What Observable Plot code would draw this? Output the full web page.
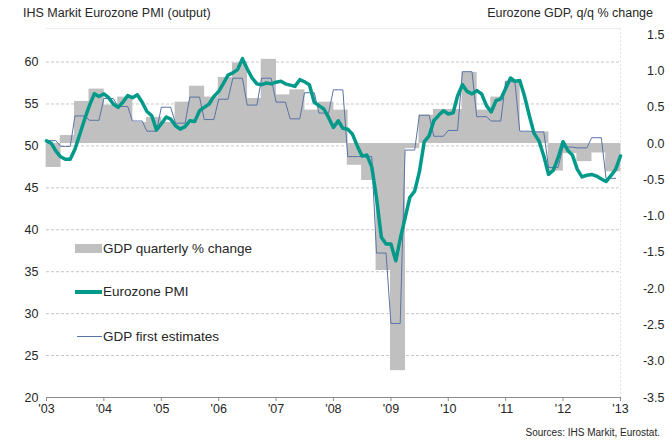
<!DOCTYPE html>
<html><head><meta charset="utf-8">
<script src="https://cdn.jsdelivr.net/npm/d3@7"></script>
<script src="https://cdn.jsdelivr.net/npm/@observablehq/plot@0.6"></script>
<style>
body{margin:0;background:#fff;}
#wrap{position:relative;width:670px;height:443px;font-family:"Liberation Sans",Arial,sans-serif;color:#262626;}
.t{position:absolute;white-space:nowrap;transform:translateY(-50%);line-height:1.2;}
.sw{position:absolute;}
</style></head><body><div id="wrap"></div>
<script>
const startYear = 2003;
const yearLabels = ["'03","'04","'05","'06","'07","'08","'09","'10","'11","'12","'13"];
const pmiTicks = [20,25,30,35,40,45,50,55,60];
const gdpTicks = [-3.5,-3.0,-2.5,-2.0,-1.5,-1.0,-0.5,0.0,0.5,1.0,1.5];
const seriesNames = ["GDP quarterly % change","Eurozone PMI","GDP first estimates"];
const titleLeft = "IHS Markit Eurozone PMI (output)";
const titleRight = "Eurozone GDP, q/q % change";
const sourceText = "Sources: IHS Markit, Eurostat.";

// Monthly Eurozone PMI, Jan 2003 .. Jan 2013
const pmiMonthly = [
 50.6,50.3,49.4,48.7,48.4,48.4,49.6,51.4,53.2,54.8,56.2,55.9,
 56.2,55.75,55.0,54.6,55.2,56.0,55.75,56.1,55.2,54.1,53.6,51.9,
 52.65,53.45,53.2,52.4,52.0,52.3,53.0,52.9,54.2,54.6,55.0,55.9,
 56.5,57.5,58.45,58.7,59.1,60.4,59.2,58.1,57.4,57.3,57.5,57.4,
 57.6,57.7,57.4,57.25,57.1,57.9,57.65,57.3,55.2,54.8,54.4,53.4,
 52.2,53.0,52.1,52.0,51.4,50.0,48.8,48.9,47.5,43.85,39.1,38.3,
 38.3,36.3,38.9,41.4,43.85,44.6,46.9,50.5,51.2,53.0,53.65,54.2,
 53.8,53.95,55.95,57.3,56.5,56.2,56.6,56.2,54.8,54.05,55.4,55.6,
 56.85,58.1,57.7,57.8,55.95,53.6,51.5,50.6,48.8,46.6,47.1,48.6,
 50.5,49.45,48.9,47.2,46.3,46.5,46.6,46.4,46.05,45.75,46.45,47.2,
 48.8
];
// Quarterly GDP % change, Q1 2003 .. Q4 2012
const gdpQuarterly = [
 -0.33,0.11,0.58,0.75, 0.53,0.64,0.29,0.36, 0.29,0.57,0.79,0.64,
 0.91,1.11,0.62,1.16, 0.67,0.74,0.46,0.57, 0.46,-0.30,-0.51,-1.75,
 -3.13,-0.07,0.39,0.47, 0.47,0.98,0.46,0.64, 0.86,0.16,0.16,-0.38,
 -0.14,-0.25,-0.13,-0.39
];
// GDP first estimates, Q1 2003 .. Q4 2012
const gdpFirstEstimate = [
 0.04,-0.04,0.38,0.32, 0.62,0.51,0.31,0.17, 0.50,0.28,0.64,0.33,
 0.61,0.90,0.53,0.90, 0.57,0.34,0.70,0.42, 0.74,-0.18,-0.18,-1.51,
 -2.48,-0.09,0.39,0.10, 0.18,0.99,0.37,0.31, 0.85,0.17,0.16,-0.33,
 -0.05,-0.06,0.08,-0.48
];

const month = i => new Date(Date.UTC(startYear, i, 1));
const gdpMin=-3.5, gdpMax=1.585, pmiMin=20, pmiMax=64;
const toPMI = g => pmiMin + (g-gdpMin)*(pmiMax-pmiMin)/(gdpMax-gdpMin);
const toGDP = p => gdpMin + (p-pmiMin)*(gdpMax-gdpMin)/(pmiMax-pmiMin);

const pmiData = pmiMonthly.map((v,i)=>({date:month(i), v}));
const barData = gdpQuarterly.map((v,q)=>({x1:month(3*q), x2:month(3*q+3), v}));
const feData = d3.range(gdpFirstEstimate.length*3).map(i=>({date:month(i), v:gdpFirstEstimate[Math.floor(i/3)]}));
const yearDates = yearLabels.map((_,k)=>new Date(Date.UTC(startYear+k,0,1)));

const chart = Plot.plot({
  width:670, height:443, marginLeft:46, marginRight:50, marginTop:28, marginBottom:46,
  style:{fontFamily:"Liberation Sans, Arial, sans-serif", fontSize:"12.5px", color:"#262626", background:"#fff"},
  x:{type:"utc", domain:[yearDates[0], yearDates[yearDates.length-1]]},
  y:{domain:[pmiMin,pmiMax]},
  marks:[
    Plot.ruleY(pmiTicks.filter(t=>t>pmiMin), {stroke:"#c6c6c6", strokeDasharray:"3,2"}),
    Plot.ruleY([pmiMax], {stroke:"#ececec"}),
    Plot.ruleX([yearDates[yearDates.length-1]], {stroke:"#e4e4e4", strokeDasharray:"2,2"}),
    Plot.rect(barData, {x1:"x1", x2:"x2", y1:d=>toPMI(0), y2:d=>toPMI(d.v), fill:"#c0c0c0", insetLeft:-0.4, insetRight:-0.4}),
    Plot.line(feData, {x:"date", y:d=>toPMI(d.v), stroke:"#5873a5", strokeWidth:1}),
    Plot.line(pmiData, {x:"date", y:"v", stroke:"#00998a", strokeWidth:3.5, strokeLinejoin:"round"}),
    Plot.ruleY([pmiMin], {stroke:"#8c8c8c"}),
    Plot.axisX(yearDates, {tickFormat:d=>yearLabels[yearDates.findIndex(t=>+t===+d)], tickSize:4, tickPadding:3, stroke:"#8c8c8c", label:null}),
    Plot.axisY(pmiTicks, {anchor:"left", tickSize:0, tickPadding:8, label:null}),
    Plot.axisY(gdpTicks.map(toPMI), {anchor:"right", tickSize:0, tickFormat:d=>(Math.round(toGDP(d)*10)/10).toFixed(1), textAnchor:"end", dx:35, label:null})
  ]
});
const wrap = document.getElementById("wrap");
wrap.appendChild(chart);

function addText(txt, opts){
  const d=document.createElement("div"); d.className="t"; d.textContent=txt;
  Object.assign(d.style, opts); wrap.appendChild(d); return d;
}
function addSw(opts){
  const d=document.createElement("div"); d.className="sw"; Object.assign(d.style, opts); wrap.appendChild(d);
}
addText(titleLeft, {left:"23px", top:"13px", fontSize:"12.5px"});
addText(titleRight, {right:"17px", top:"13px", fontSize:"12.5px"});
addText(sourceText, {right:"10px", top:"433px", fontSize:"10px"});
// legend
addSw({left:"75px", top:"244px", width:"27px", height:"9px", background:"#c0c0c0"});
addText(seriesNames[0], {left:"103px", top:"249px", fontSize:"13.5px"});
addSw({left:"75px", top:"290px", width:"27px", height:"3.5px", background:"#00998a"});
addText(seriesNames[1], {left:"103px", top:"292px", fontSize:"13.5px"});
addSw({left:"77px", top:"336px", width:"25px", height:"1px", background:"#5873a5"});
addText(seriesNames[2], {left:"103px", top:"337px", fontSize:"13.5px"});
</script></body></html>
